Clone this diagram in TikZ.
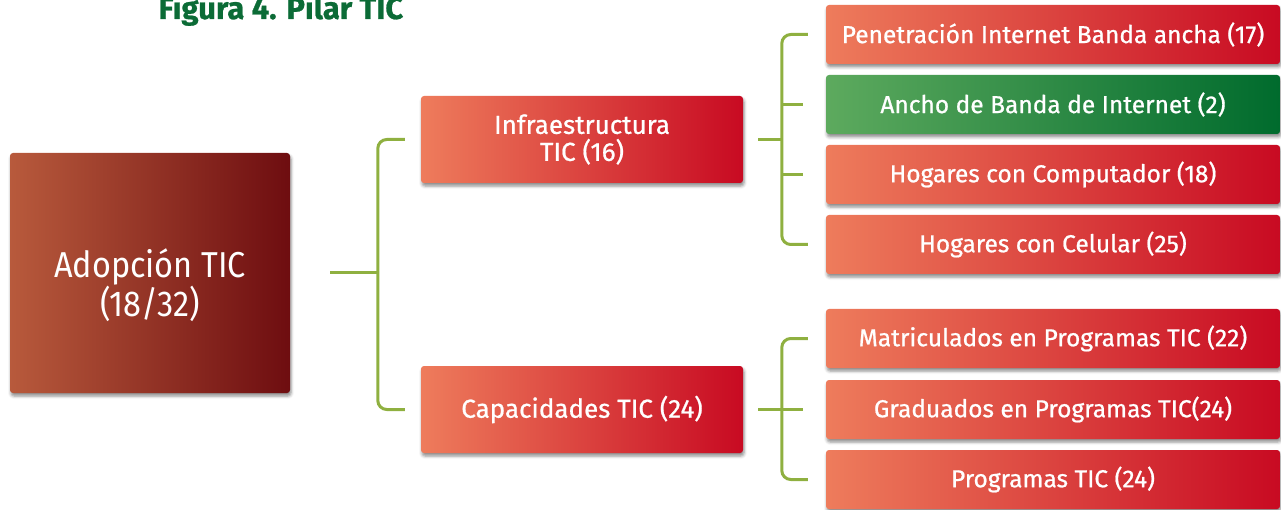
\documentclass[tikz,border=0pt]{standalone}
\usepackage{fontspec}
\setmainfont{Fira Sans}[FakeBold=0.8]
\newfontfamily\narrowfont{Fira Sans}[FakeStretch=0.9]
\usepackage{tikz}
\usetikzlibrary{shadows.blur}
\definecolor{redL}{HTML}{EE7C5C}
\definecolor{redM}{HTML}{E2001C}
\definecolor{redR}{HTML}{C80A22}
\definecolor{grnL}{HTML}{5DAA5E}
\definecolor{grnM}{HTML}{009933}
\definecolor{grnR}{HTML}{006B2D}
\definecolor{brnL}{HTML}{B85A3C}
\definecolor{brnM}{HTML}{9A1E14}
\definecolor{brnR}{HTML}{6E0D10}
\definecolor{tieC}{HTML}{8FB040}
\definecolor{ttlC}{HTML}{0B6B36}

\begin{document}
\begin{tikzpicture}[x=1pt, y=-1pt,
    box/.style={rounded corners=3pt, text=white, align=center, inner sep=0pt,
        blur shadow={shadow xshift=1pt, shadow yshift=-3pt, shadow blur radius=3pt, shadow opacity=45}},
    redbox/.style={box, left color=redL, middle color=redM, right color=redR},
    mid/.style={redbox, minimum width=322pt, minimum height=87pt, font=\fontsize{26}{27}\selectfont},
    leaf/.style={redbox, minimum width=454pt, minimum height=59pt, font=\fontsize{24.5}{26}\selectfont},
    tie/.style={draw=tieC, line width=3pt, rounded corners=9pt}]
            \useasboundingbox (0,0) rectangle (1281,510);
            \node[anchor=base west, text=ttlC, font=\fontsize{31}{33}\selectfont\bfseries] (title) at (155,19) {Figura 4. Pilar TIC};
            \node[box, left color=brnL, middle color=brnM, right color=brnR, minimum width=280pt, minimum height=240pt,
                label={[text=white, align=center, yshift=-12pt, font=\narrowfont\fontsize{36}{38}\selectfont]center:{Adopción TIC\\(18/32)}}] (adop) at (150,273) {};
            \node[mid] (infra) at (582,139.5) {Infraestructura\\TIC (16)};
            \node[mid] (capac) at (582,409.5) {Capacidades TIC (24)};
            \node[leaf] (pen) at (1053,34.5) {Penetración Internet Banda ancha (17)};
            \node[leaf, left color=grnL, middle color=grnM, right color=grnR] (anc) at (1053,104.5) {Ancho de Banda de Internet (2)};
            \node[leaf] (comp) at (1053,174.5) {Hogares con Computador (18)};
            \node[leaf] (cel) at (1053,244.5) {Hogares con Celular (25)};
            \node[leaf] (mat) at (1053,338.5) {Matriculados en Programas TIC (22)};
            \node[leaf] (grad) at (1053,409.5) {Graduados en Programas TIC(24)};
            \node[leaf] (prog) at (1053,479.5) {Programas TIC (24)};
            % brackets
            \draw[tie] ([xshift=40pt]adop.east) -- ([xshift=-43pt]infra.west |- adop.east);
            \draw[tie] ([xshift=-16pt]infra.west) -- ([xshift=-43pt]infra.west) -- ([xshift=-43pt]capac.west) -- ([xshift=-16pt]capac.west);
            \draw[tie] ([xshift=15pt]infra.east) -- ([xshift=-44pt]pen.west |- infra.east);
            \draw[tie] ([xshift=-18pt]pen.west) -- ([xshift=-44pt]pen.west) -- ([xshift=-44pt]cel.west) -- ([xshift=-18pt]cel.west);
            \draw[tie] ([xshift=-44pt]anc.west) -- ([xshift=-23pt]anc.west);
            \draw[tie] ([xshift=-44pt]comp.west) -- ([xshift=-23pt]comp.west);
            \draw[tie] ([xshift=15pt]capac.east) -- ([xshift=-23pt]grad.west);
            \draw[tie] ([xshift=-18pt]mat.west) -- ([xshift=-44pt]mat.west) -- ([xshift=-44pt]prog.west) -- ([xshift=-18pt]prog.west);
        \end{tikzpicture}
\end{document}
